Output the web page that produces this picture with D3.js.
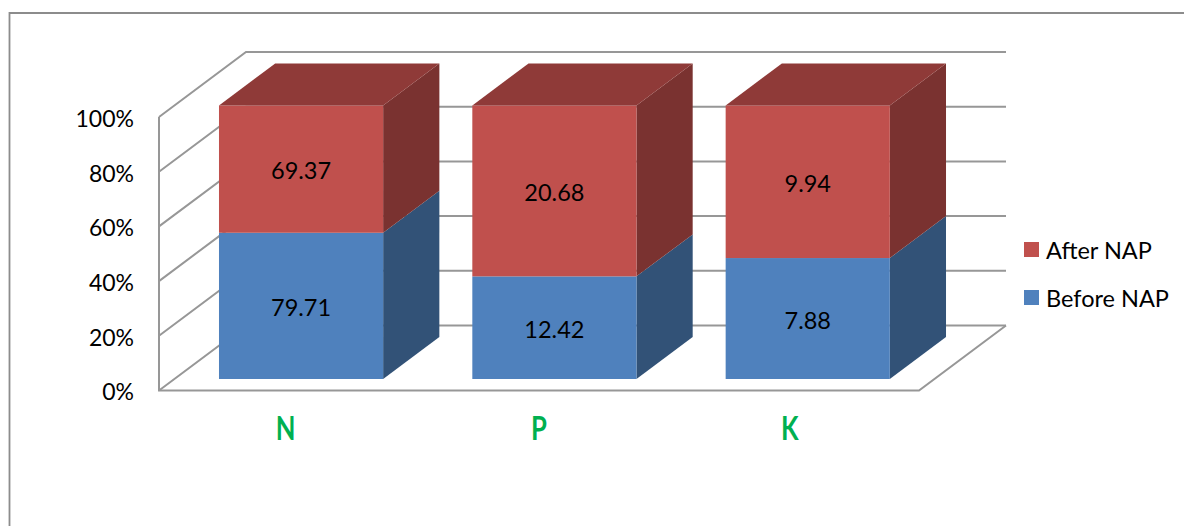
<!DOCTYPE html>
<html>
<head>
<meta charset="utf-8">
<script src="https://cdn.jsdelivr.net/npm/d3@7"></script>
<style>
  html, body { margin: 0; padding: 0; background: #fff; }
  svg { display: block; }
  text { font-family: Lato, "Open Sans", sans-serif; fill: #000; }
</style>
</head>
<body>
<svg id="chart" width="1184" height="526"></svg>
<script>
// data
const categories = ['N', 'P', 'K'];
const seriesNames = ['Before NAP', 'After NAP'];
const beforeNap = [79.71, 12.42, 7.88];
const afterNap = [69.37, 20.68, 9.94];
const percentTicks = [0, 0.2, 0.4, 0.6, 0.8, 1];
const legendOrder = ['After NAP', 'Before NAP'];

const W = 1184, H = 526;
const svg = d3.select('#chart');

// front plane of the 3d box, and how far the back wall is pushed
const x = d3.scaleBand().domain(categories).range([159, 919]).paddingInner(0.352).paddingOuter(0.176);
const y = d3.scaleLinear().domain([0, 1]).range([390.5, 117]);
const WALL_DX = 87, WALL_DY = -65;
const BAR_NEAR = 0.177, BAR_FAR = 0.823;

const faces = {
  'Before NAP': { front: '#4f81bd', side: '#325277', top: '#3f6797' },
  'After NAP':  { front: '#c0504d', side: '#7a3230', top: '#8f3a38' }
};
const GRID = '#979797';

// outer frame, only top and left show in the crop
svg.append('path')
  .attr('d', `M9.5,${H}V13H${W}`)
  .attr('fill', 'none').attr('stroke', '#8c8c8c').attr('stroke-width', 1.8);

// walls and floor
const walls = svg.append('g').attr('fill', 'none').attr('stroke', GRID).attr('stroke-width', 2);
const x0 = x.range()[0], x1 = x.range()[1];
percentTicks.forEach(t => {
  walls.append('path')
    .attr('d', `M${x0},${y(t)}l${WALL_DX},${WALL_DY}H${x1 + WALL_DX}`);
});
walls.append('path').attr('d', `M${x0},${y(1)}V${y(0)}H${x1}l${WALL_DX},${WALL_DY}`);

// stacked bars, percent of each category
const table = categories.map((c, i) => ({ cat: c, 'Before NAP': beforeNap[i], 'After NAP': afterNap[i] }));
const stacked = d3.stack().keys(seriesNames).offset(d3.stackOffsetExpand)(table);

const nearX = WALL_DX * BAR_NEAR, nearY = WALL_DY * BAR_NEAR;
const depthX = WALL_DX * (BAR_FAR - BAR_NEAR), depthY = WALL_DY * (BAR_FAR - BAR_NEAR);

categories.forEach((c, i) => {
  const g = svg.append('g').attr('transform', `translate(${nearX},${nearY})`);
  const left = x(c), right = left + x.bandwidth();
  stacked.forEach((s, k) => {
    const col = faces[s.key];
    const yb = y(s[i][0]), yt = y(s[i][1]);
    g.append('path').attr('fill', col.side)
      .attr('d', `M${right},${yb}l${depthX},${depthY}V${yt + depthY}L${right},${yt}Z`);
    g.append('rect').attr('fill', col.front)
      .attr('x', left).attr('y', yt).attr('width', right - left).attr('height', yb - yt);
    if (k === stacked.length - 1) {
      g.append('path').attr('fill', col.top)
        .attr('d', `M${left},${yt}l${depthX},${depthY}H${right + depthX}L${right},${yt}Z`);
    }
    g.append('text')
      .attr('x', (left + right) / 2).attr('y', (yb + yt) / 2 + 1)
      .attr('text-anchor', 'middle').attr('dominant-baseline', 'central')
      .attr('font-size', 23.5)
      .text(s[i].data[s.key]);
  });
});

// y axis labels
const yAxis = d3.axisLeft(y).tickValues(percentTicks).tickSize(0).tickPadding(25).tickFormat(d3.format('.0%'));
const yG = svg.append('g').attr('transform', `translate(${x0},2)`).call(yAxis);
yG.select('.domain').remove();
yG.selectAll('text').attr('font-size', 23).style('font-family', 'Lato');

// category labels, squeezed because the original face is narrow
// the K sits a little left of its band in the original
const xAxis = d3.axisBottom(x).tickSize(0).tickPadding(0);
const xG = svg.append('g').attr('transform', 'translate(0,417)').call(xAxis);
xG.select('.domain').remove();
xG.selectAll('text')
  .attr('font-size', 32).attr('font-weight', 700)
  .attr('transform', d => `translate(${d === 'K' ? -2.5 : 0},0) scale(0.8,1)`)
  .style('fill', '#00b050').style('font-family', 'Lato');

// legend
const legendY = d3.scalePoint().domain(legendOrder).range([249.5, 297.5]);
const lg = svg.append('g').selectAll('g').data(legendOrder).join('g')
  .attr('transform', d => `translate(1024,${legendY(d)})`);
lg.append('rect').attr('x', 0).attr('y', -7.5).attr('width', 15).attr('height', 15)
  .attr('fill', d => faces[d].front);
lg.append('text').attr('x', 22).attr('y', 0).attr('dominant-baseline', 'central')
  .attr('font-size', 23.5).text(d => d);
</script>
</body>
</html>
